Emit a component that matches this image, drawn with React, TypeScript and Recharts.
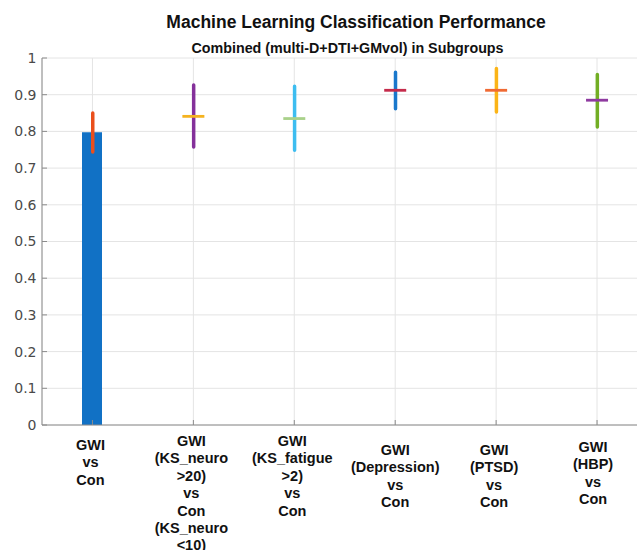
import React from 'react';
import { ComposedChart, Bar, Line, XAxis, YAxis, CartesianGrid, Cell } from 'recharts';

// ---- data ----
const categories = [
  'GWI\nvs\nCon',
  'GWI\n(KS_neuro\n>20)\nvs\nCon\n(KS_neuro\n<10)',
  'GWI\n(KS_fatigue\n>2)\nvs\nCon',
  'GWI\n(Depression)\nvs\nCon',
  'GWI\n(PTSD)\nvs\nCon',
  'GWI\n(HBP)\nvs\nCon',
];
const barValues = [0.798, null, null, null, null, null];
const meanValues = [null, 0.841, 0.835, 0.912, 0.912, 0.885];
const lowerValues = [0.739, 0.753, 0.744, 0.857, 0.848, 0.807];
const upperValues = [0.855, 0.931, 0.928, 0.966, 0.976, 0.96];
const yTicks = [0, 0.1, 0.2, 0.3, 0.4, 0.5, 0.6, 0.7, 0.8, 0.9, 1];

const titleText = 'Machine Learning Classification Performance';
const subtitleText = 'Combined (multi-D+DTI+GMvol) in Subgroups';

// ---- styles ----
const barColor = '#1171C5';
const rangeColors = ['#EA4F1C', '#84309A', '#3DBDF0', '#1A78CC', '#FBB417', '#72AE24'];
const meanColors = ['none', '#F5B31F', '#A9D18A', '#C52B4B', '#F06A33', '#8F3AA0'];
const labelFirstOffset = [20, 16, 16, 25, 25, 22];
const labelDx = [-2, -2, -2, 0, -2, -4];
const axisColor = '#8c8c8c';
const gridColor = '#e4e4e4';

const data = categories.map((c, i) => ({
  cat: c,
  bar: barValues[i],
  mean: meanValues[i],
  range: [lowerValues[i], upperValues[i]],
}));

const XTick = (props: any) => {
  const { x, y, payload } = props;
  const idx = categories.indexOf(payload.value);
  const lines = String(payload.value).split('\n');
  return (
    <g>
      {lines.map((l, i) => (
        <text
          key={i}
          x={x + labelDx[idx]}
          y={y + labelFirstOffset[idx] + i * 17.4}
          textAnchor="middle"
          dominantBaseline="central"
          fontFamily="'Liberation Sans', Arial, sans-serif"
          fontWeight="bold"
          fontSize={14.5}
          fill="#111"
        >
          {l}
        </text>
      ))}
    </g>
  );
};

const MeanDot = (props: any) => {
  const { cx, cy, index } = props;
  if (cy == null || isNaN(cy)) return <g />;
  return (
    <line x1={cx - 11} x2={cx + 11} y1={cy} y2={cy} stroke={meanColors[index]} strokeWidth={2.8} />
  );
};

export default function App() {
  return (
    <div style={{ position: 'fixed', left: 0, top: 0, width: 637, height: 550, overflow: 'hidden', background: '#fff' }}>
      <ComposedChart width={650} height={550} data={data} margin={{ top: 58, right: 2.5, bottom: 0, left: 0 }}>
        <CartesianGrid stroke={gridColor} strokeWidth={1} />
        <XAxis
          dataKey="cat"
          height={125}
          interval={0}
          tickSize={-5}
          tickMargin={5}
          tick={<XTick />}
          axisLine={{ stroke: axisColor }}
          tickLine={{ stroke: axisColor }}
        />
        <XAxis
          xAxisId="top"
          orientation="top"
          dataKey="cat"
          height={0}
          interval={0}
          tickSize={-5}
          tick={false}
          axisLine={{ stroke: axisColor }}
          tickLine={{ stroke: axisColor }}
        />
        <YAxis
          domain={[0, 1]}
          ticks={yTicks}
          interval={0}
          width={42}
          tickSize={-5}
          tickMargin={10.5}
          tick={{ fontFamily: "'DejaVu Sans', sans-serif", fontSize: 14, fill: '#4a4a4a' }}
          tickFormatter={(v: number) => String(v)}
          axisLine={{ stroke: axisColor }}
          tickLine={{ stroke: axisColor }}
        />
        <Bar dataKey="bar" fill={barColor} barSize={20} isAnimationActive={false} />
        <Bar dataKey="range" xAxisId="top" barSize={3.5} radius={1.75} isAnimationActive={false}>
          {data.map((d, i) => (
            <Cell key={i} fill={rangeColors[i]} />
          ))}
        </Bar>
        <Line dataKey="mean" stroke="none" dot={<MeanDot />} activeDot={false} isAnimationActive={false} />
      </ComposedChart>
      <svg width={637} height={70} style={{ position: 'absolute', left: 0, top: 0, pointerEvents: 'none' }}>
        <text x={356} y={28} textAnchor="middle" fontFamily="'Liberation Sans', Arial, sans-serif" fontWeight="bold" fontSize={17.5} fill="#111">
          {titleText}
        </text>
        <text x={347.5} y={53} textAnchor="middle" fontFamily="'Liberation Sans', Arial, sans-serif" fontWeight="bold" fontSize={14.3} fill="#111">
          {subtitleText}
        </text>
      </svg>
    </div>
  );
}
